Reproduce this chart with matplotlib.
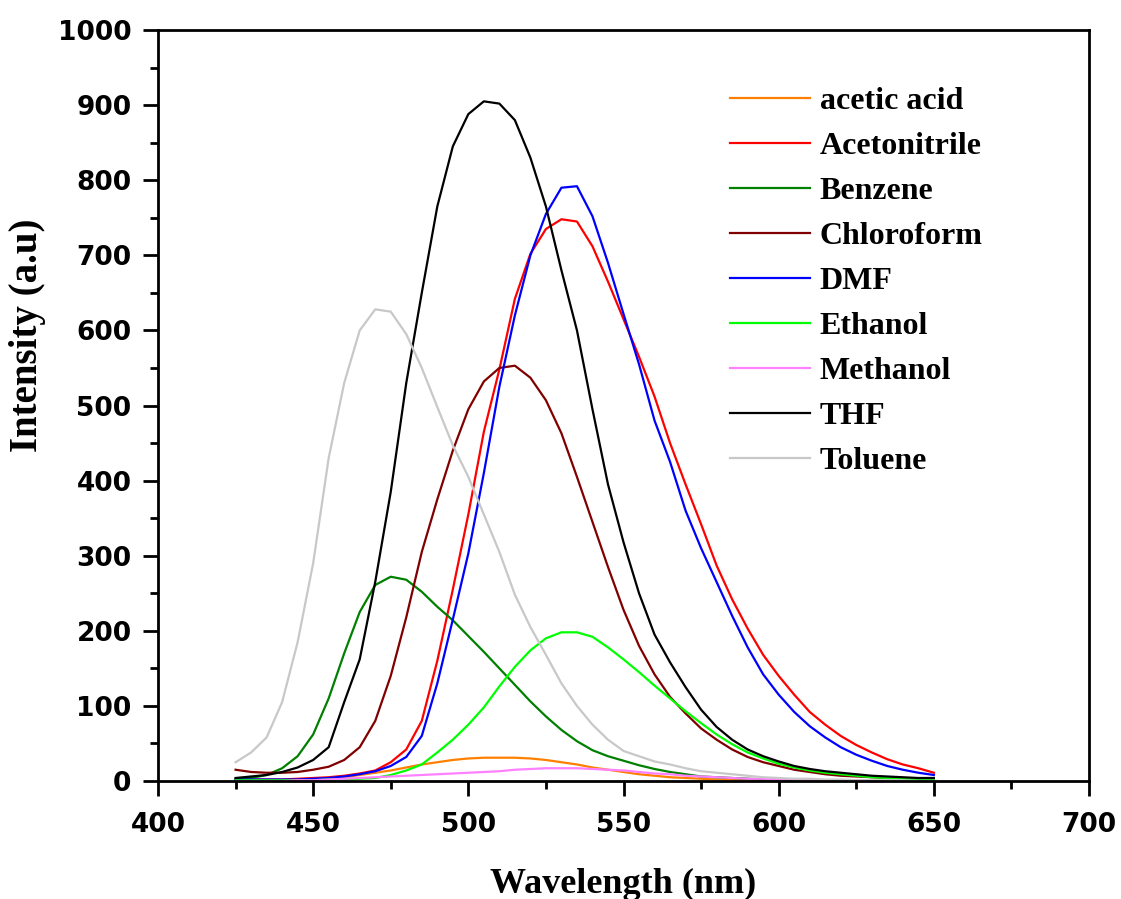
import numpy as np
import matplotlib
matplotlib.use('Agg')
import matplotlib.pyplot as plt
from matplotlib.ticker import MultipleLocator

# Longitud de onda (nm), cada 5 nm
wavelength = np.arange(425, 651, 5)

acetic_acid = [1, 1, 1, 1, 2, 2, 3, 5, 8, 11, 14, 18, 22, 25, 28, 30, 31, 31, 31, 30,
               28, 25, 22, 18, 15, 12, 9, 7, 5, 4, 3, 2, 2, 1, 1, 1, 1, 1, 1, 1,
               1, 0, 0, 0, 0, 0]
acetonitrile = [2, 2, 2, 2, 3, 4, 5, 7, 10, 14, 25, 42, 80, 160, 255, 355, 465, 548, 642, 702,
                735, 748, 745, 712, 665, 615, 565, 512, 450, 395, 342, 287, 242, 203, 168, 140, 115, 92, 75, 60,
                48, 38, 29, 22, 17, 11]
benzene = [2, 4, 8, 17, 33, 62, 110, 170, 225, 261, 272, 268, 252, 232, 214, 193, 172, 150, 128, 106,
           86, 68, 53, 41, 33, 27, 21, 16, 12, 9, 6, 5, 4, 3, 2, 2, 1, 1, 1, 1,
           0, 0, 0, 0, 0, 0]
chloroform = [15, 12, 11, 11, 12, 15, 19, 28, 45, 80, 140, 218, 305, 375, 440, 495, 532, 550, 553, 537,
              507, 463, 405, 345, 285, 228, 180, 142, 112, 90, 70, 55, 42, 32, 25, 20, 15, 12, 9, 7,
              6, 5, 4, 3, 2, 2]
dmf = [2, 2, 2, 2, 2, 3, 4, 6, 9, 13, 20, 32, 60, 130, 215, 303, 410, 525, 620, 700,
       755, 790, 792, 752, 690, 622, 555, 480, 425, 360, 310, 265, 220, 178, 142, 115, 92, 73, 58, 45,
       35, 27, 20, 15, 11, 8]
ethanol = [1, 1, 1, 1, 1, 1, 2, 2, 3, 4, 8, 14, 22, 38, 55, 75, 98, 126, 152, 174,
           190, 198, 198, 192, 178, 162, 145, 127, 110, 93, 77, 62, 49, 38, 30, 23, 18, 14, 11, 9,
           7, 5, 4, 3, 2, 2]
methanol = [0, 0, 0, 0, 1, 1, 2, 3, 4, 5, 6, 7, 8, 9, 10, 11, 12, 13, 15, 16,
            17, 17, 17, 16, 15, 14, 12, 10, 9, 7, 6, 5, 4, 3, 3, 2, 2, 1, 1, 1,
            1, 0, 0, 0, 0, 0]
thf = [4, 6, 8, 12, 18, 28, 45, 105, 162, 265, 385, 530, 650, 765, 845, 888, 905, 902, 880, 830,
       765, 680, 600, 495, 395, 318, 250, 195, 158, 125, 95, 72, 55, 42, 33, 26, 20, 16, 13, 11,
       9, 7, 6, 5, 4, 4]
toluene = [25, 38, 58, 105, 185, 290, 430, 530, 600, 628, 625, 595, 550, 498, 447, 405, 355, 305, 248, 205,
           168, 130, 100, 75, 55, 40, 33, 26, 22, 17, 13, 11, 9, 7, 5, 4, 3, 3, 2, 2,
           1, 1, 1, 1, 0, 0]

series = [
    ('acetic acid', acetic_acid, '#FF8000'),
    ('Acetonitrile', acetonitrile, '#FF0000'),
    ('Benzene', benzene, '#008000'),
    ('Chloroform', chloroform, '#800000'),
    ('DMF', dmf, '#0000FF'),
    ('Ethanol', ethanol, '#00FF00'),
    ('Methanol', methanol, '#FF80FF'),
    ('THF', thf, '#000000'),
    ('Toluene', toluene, '#C8C8C8'),
]

fig = plt.figure(figsize=(11.21, 8.99), dpi=100)
ax = fig.add_axes([158/1121, 1-781/899, (1089-158)/1121, (781-30)/899])

for name, vals, col in series:
    ax.plot(wavelength, vals, color=col, lw=1.6, label=name, solid_joinstyle='round')

ax.set_xlim(400, 700)
ax.set_ylim(0, 1000)
ax.xaxis.set_major_locator(MultipleLocator(50))
ax.xaxis.set_minor_locator(MultipleLocator(25))
ax.yaxis.set_major_locator(MultipleLocator(100))
ax.yaxis.set_minor_locator(MultipleLocator(50))

for s in ax.spines.values():
    s.set_linewidth(2)
ax.tick_params(which='major', direction='out', length=11, width=2, pad=8)
ax.tick_params(which='minor', direction='out', length=6, width=2)
ax.tick_params(axis='x', which='major', pad=11)
for lab in ax.get_xticklabels() + ax.get_yticklabels():
    lab.set_fontfamily('DejaVu Sans')
    lab.set_fontweight('bold')
    lab.set_fontsize(19)

ax.set_xlabel('Wavelength (nm)', fontsize=26, fontweight='bold', family='Liberation Serif')
ax.set_ylabel('Intensity (a.u)', fontsize=28, fontweight='bold', family='Liberation Serif')
ax.xaxis.set_label_coords(0.5, -0.116)
ax.yaxis.set_label_coords(-0.120, 0.594)

ax.legend(loc='upper left', bbox_to_anchor=(0.6144, 0.925), frameon=False,
          borderpad=0, borderaxespad=0, handlelength=2.5, handletextpad=0.31,
          labelspacing=0.49, prop={'family': 'Liberation Serif', 'weight': 'bold', 'size': 23})

plt.savefig('out.png', dpi=100)
plt.close()
